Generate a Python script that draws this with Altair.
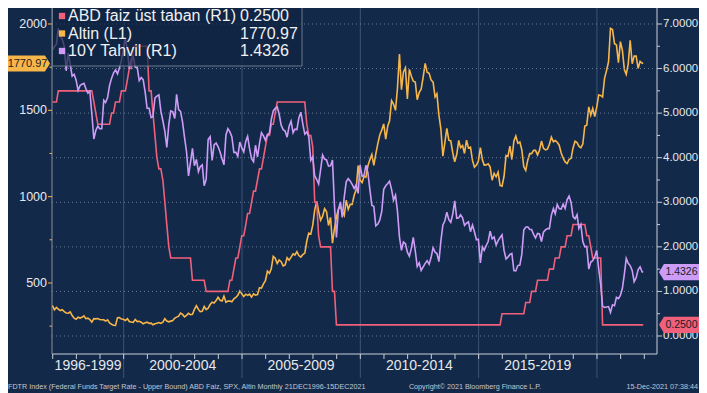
import altair as alt
import pandas as pd

# ---------------- data (monthly, Dec 1996 .. Dec 2021) ----------------
gold = [369,
    345, 358, 349, 340, 345, 334, 326, 325, 332, 311, 296, 290,
    302, 297, 301, 309, 293, 296, 288, 273, 293, 292, 294, 288,
    287, 287, 279, 286, 268, 261, 255, 254, 299, 300, 291, 290,
    283, 293, 277, 274, 272, 288, 276, 278, 273, 264, 270, 273,
    266, 267, 258, 264, 267, 271, 266, 273, 293, 279, 275, 279,
    282, 297, 302, 308, 326, 318, 304, 312, 324, 317, 319, 347,
    368, 347, 334, 336, 364, 346, 354, 375, 388, 384, 398, 417,
    400, 396, 424, 388, 395, 395, 391, 408, 416, 428, 453, 438,
    422, 435, 428, 435, 418, 437, 429, 433, 473, 470, 495, 513,
    568, 556, 582, 654, 643, 613, 633, 623, 599, 604, 646, 632,
    650, 669, 662, 681, 659, 650, 665, 673, 743, 789, 783, 834,
    923, 972, 916, 864, 885, 930, 913, 833, 880, 730, 815, 882,
    928, 942, 916, 891, 979, 927, 955, 955, 1008, 1040, 1180, 1096,
    1081, 1118, 1113, 1179, 1213, 1244, 1181, 1248, 1307, 1357, 1386, 1421,
    1333, 1410, 1439, 1556, 1536, 1500, 1628, 1826, 1620, 1722, 1746, 1566,
    1737, 1697, 1669, 1664, 1561, 1604, 1622, 1692, 1772, 1720, 1714, 1676,
    1663, 1578, 1596, 1472, 1393, 1234, 1312, 1395, 1327, 1323, 1253, 1202,
    1244, 1326, 1284, 1296, 1250, 1327, 1282, 1287, 1210, 1171, 1183, 1206,
    1284, 1213, 1183, 1184, 1190, 1172, 1095, 1135, 1115, 1142, 1065, 1061,
    1118, 1238, 1233, 1293, 1215, 1322, 1351, 1309, 1316, 1272, 1173, 1152,
    1211, 1249, 1249, 1268, 1268, 1242, 1269, 1322, 1280, 1271, 1275, 1303,
    1345, 1318, 1325, 1315, 1298, 1253, 1224, 1201, 1192, 1215, 1222, 1282,
    1321, 1313, 1292, 1283, 1305, 1409, 1414, 1520, 1472, 1511, 1464, 1517,
    1589, 1586, 1577, 1687, 1730, 1781, 1975, 1968, 1886, 1879, 1776, 1898,
    1847, 1734, 1708, 1769, 1906, 1770, 1814, 1814, 1743, 1783, 1774, 1771]

tsy10 = [6.42,
    6.49, 6.55, 6.90, 6.72, 6.66, 6.50, 5.95, 6.34, 6.10, 5.83, 5.87, 5.74,
    5.51, 5.62, 5.65, 5.67, 5.55, 5.45, 5.49, 4.98, 4.42, 4.61, 4.71, 4.65,
    4.65, 5.29, 5.24, 5.35, 5.62, 5.78, 5.90, 5.97, 5.88, 6.02, 6.19, 6.44,
    6.67, 6.41, 6.00, 6.21, 6.27, 6.03, 6.03, 5.73, 5.80, 5.75, 5.47, 5.11,
    5.11, 4.90, 4.92, 5.34, 5.38, 5.41, 5.05, 4.83, 4.59, 4.23, 4.75, 5.05,
    5.03, 4.88, 5.42, 5.08, 5.04, 4.80, 4.46, 4.14, 3.59, 3.89, 4.21, 3.82,
    3.96, 3.69, 3.80, 3.84, 3.37, 3.52, 4.41, 4.47, 3.94, 4.29, 4.33, 4.25,
    4.13, 3.97, 3.84, 4.51, 4.65, 4.58, 4.47, 4.12, 4.12, 4.03, 4.35, 4.22,
    4.13, 4.37, 4.48, 4.20, 3.98, 3.91, 4.28, 4.02, 4.32, 4.56, 4.49, 4.39,
    4.52, 4.55, 4.85, 5.05, 5.11, 5.14, 4.98, 4.73, 4.63, 4.60, 4.46, 4.70,
    4.82, 4.56, 4.64, 4.63, 4.89, 5.02, 4.76, 4.53, 4.58, 4.47, 3.94, 4.02,
    3.59, 3.51, 3.41, 3.73, 4.06, 3.97, 3.95, 3.81, 3.82, 3.95, 2.92, 2.21,
    2.84, 3.01, 2.66, 3.12, 3.46, 3.53, 3.48, 3.40, 3.31, 3.39, 3.20, 3.84,
    3.58, 3.61, 3.83, 3.66, 3.29, 2.93, 2.91, 2.47, 2.51, 2.60, 2.80, 3.29,
    3.37, 3.42, 3.47, 3.29, 3.05, 3.16, 2.80, 2.22, 1.92, 2.11, 2.07, 1.88,
    1.79, 1.97, 2.21, 1.91, 1.56, 1.64, 1.47, 1.55, 1.63, 1.69, 1.61, 1.76,
    1.98, 1.88, 1.85, 1.67, 2.13, 2.49, 2.58, 2.78, 2.61, 2.55, 2.74, 3.03,
    2.64, 2.65, 2.72, 2.65, 2.48, 2.53, 2.56, 2.34, 2.49, 2.34, 2.16, 2.17,
    1.64, 2.00, 1.92, 2.03, 2.12, 2.35, 2.18, 2.22, 2.04, 2.14, 2.21, 2.27,
    1.92, 1.73, 1.77, 1.83, 1.85, 1.47, 1.46, 1.58, 1.59, 1.83, 2.38, 2.44,
    2.45, 2.39, 2.39, 2.28, 2.20, 2.30, 2.29, 2.12, 2.33, 2.38, 2.41, 2.41,
    2.71, 2.86, 2.74, 2.95, 2.86, 2.85, 2.96, 2.86, 3.06, 3.14, 2.99, 2.68,
    2.63, 2.72, 2.41, 2.50, 2.12, 2.00, 2.01, 1.50, 1.66, 1.69, 1.78, 1.92,
    1.51, 1.15, 0.67, 0.64, 0.65, 0.66, 0.53, 0.70, 0.68, 0.87, 0.84, 0.91,
    1.07, 1.40, 1.74, 1.63, 1.58, 1.47, 1.22, 1.31, 1.49, 1.55, 1.44, 1.43]

fed = ([5.25]
    + [5.25, 5.25] + [5.5] * 10
    + [5.5] * 8 + [5.25, 5.0, 4.75, 4.75]
    + [4.75] * 5 + [5.0, 5.0, 5.25, 5.25, 5.25, 5.5, 5.5]
    + [5.5, 5.75, 6.0, 6.0] + [6.5] * 8
    + [5.5, 5.5, 5.0, 4.5, 4.0, 3.75, 3.75, 3.5, 3.0, 2.5, 2.0, 1.75]
    + [1.75] * 10 + [1.25, 1.25]
    + [1.25] * 5 + [1.0] * 7
    + [1.0] * 5 + [1.25, 1.25, 1.5, 1.75, 1.75, 2.0, 2.25]
    + [2.25, 2.5, 2.75, 2.75, 3.0, 3.25, 3.25, 3.5, 3.75, 3.75, 4.0, 4.25]
    + [4.5, 4.5, 4.75, 4.75, 5.0] + [5.25] * 7
    + [5.25] * 8 + [4.75, 4.5, 4.5, 4.25]
    + [3.0, 3.0, 2.25] + [2.0] * 6 + [1.0, 1.0, 0.25]
    + [0.25] * 72
    + [0.25] * 11 + [0.5]
    + [0.5] * 11 + [0.75]
    + [0.75, 0.75, 1.0, 1.0, 1.0] + [1.25] * 6 + [1.5]
    + [1.5, 1.5, 1.75, 1.75, 1.75, 2.0, 2.0, 2.0, 2.25, 2.25, 2.25, 2.5]
    + [2.5] * 6 + [2.25, 2.25, 2.0, 1.75, 1.75, 1.75]
    + [1.75, 1.75] + [0.25] * 10
    + [0.25] * 12)

dates = ["1996-12-28"] + [f"{y}-{m:02d}-28" for y in range(1997, 2022) for m in range(1, 13)]
dates[-1] = "2021-12-15"

legend_labels = ["ABD faiz üst taban (R1)", "Altin (L1)", "10Y Tahvil (R1)"]
legend_values = ["0.2500", "1770.97", "1.4326"]
period_labels = ["1996-1999", "2000-2004", "2005-2009", "2010-2014", "2015-2019"]
period_mid = ["1998-07-01", "2002-07-01", "2007-07-01", "2012-07-01", "2017-07-01"]
separators = ["2000-01-01", "2005-01-01", "2010-01-01", "2015-01-01", "2020-01-01"]
year_ticks = [f"{y}-01-01" for y in range(1997, 2023)]
left_ticks = [500, 1000, 1500, 2000]
left_minor = [250, 750, 1250, 1750]
right_ticks = [0, 1, 2, 3, 4, 5, 6, 7]
right_minor = [0.5, 1.5, 2.5, 3.5, 4.5, 5.5, 6.5]
last_gold, last_tsy, last_fed = 1770.97, 1.4326, 0.25
footer_left = "FDTR Index (Federal Funds Target Rate - Upper Bound) ABD Faiz, SPX, Altin  Monthly 21DEC1996-15DEC2021"
footer_mid = "Copyright© 2021 Bloomberg Finance L.P."
footer_right = "15-Dec-2021 07:38:44"

# ---------------- styling ----------------
BG = "#13294a"
C_GOLD = "#f7b649"
C_FED = "#f0607a"
C_TSY = "#cc9cf7"
AX = "#c9ced6"
TXT = "#e6e8ec"
FONT = "Liberation Sans"
W, H = 605, 346

df = pd.DataFrame({"date": dates, "gold": gold, "fed": fed, "tsy": tsy10})
one = pd.DataFrame({"a": [0]})


def ms(s):
    return int(pd.Timestamp(s).value // 10**6)


xs = alt.Scale(domain=[ms("1996-12-21"), ms("2022-07-16")])
X = alt.X("date:T", scale=xs, axis=None)

ys_gold = alt.Scale(domain=[88.6, 2092.6], nice=False, zero=False)
YG = alt.Y("gold:Q", scale=ys_gold, axis=None)
ys_r = alt.Scale(domain=[-0.404, 7.359], nice=False, zero=False)
YR = alt.Y("v:Q", scale=ys_r, axis=None)

# ---------------- x frame ----------------
sep = alt.Chart(pd.DataFrame({"date": separators})).mark_rule(
    color="#3a5478", strokeWidth=1).encode(x=X, y=alt.value(0), y2=alt.value(370))
x_domain = alt.Chart(one).mark_rule(color=AX, strokeWidth=1).encode(
    x=alt.value(0), x2=alt.value(W), y=alt.value(H))
x_ticks = alt.Chart(pd.DataFrame({"date": year_ticks})).mark_rule(
    color=AX, strokeWidth=1).encode(x=X, y=alt.value(H), y2=alt.value(H + 5))

# ---------------- left (gold) group ----------------
gold_line = alt.Chart(df).mark_line(color=C_GOLD, strokeWidth=1.6, clip=True).encode(x=X, y=YG)
l_domain = alt.Chart(one).mark_rule(color="#8b8f96", strokeWidth=1).encode(
    x=alt.value(0), y=alt.value(0), y2=alt.value(H))
l_tick_df = pd.DataFrame({"gold": left_ticks})
l_ticks = alt.Chart(l_tick_df).mark_rule(color=C_GOLD).encode(
    x=alt.value(-4), x2=alt.value(0), y=YG)
l_labels = alt.Chart(l_tick_df).mark_text(
    align="right", baseline="middle", fontSize=12.5, font=FONT, color=TXT
).encode(x=alt.value(-5), y=YG, text=alt.Text("gold:Q", format="d"))
l_minor = alt.Chart(pd.DataFrame({"gold": left_minor})).mark_rule(color=C_GOLD).encode(
    x=alt.value(-2.5), x2=alt.value(0), y=YG)
tag_l_path = "M-1,-0.38L0.76,-0.38L1,0L0.76,0.38L-1,0.38Z"
gold_tag_df = pd.DataFrame({"gold": [last_gold], "label": [legend_values[1]]})
gold_tag = alt.Chart(gold_tag_df).mark_point(
    shape=tag_l_path, size=42 * 42, filled=True, color=C_GOLD, opacity=1, strokeWidth=0
).encode(x=alt.value(-23), y=YG)
gold_tag_txt = alt.Chart(gold_tag_df).mark_text(
    color="#1c1c24", fontSize=11, font=FONT, align="center", baseline="middle"
).encode(x=alt.value(-24.5), y=YG, text="label:N")
gold_group = alt.layer(l_minor, l_ticks, l_labels, gold_line, gold_tag, gold_tag_txt)

# ---------------- right (rates) group ----------------
r_tick_df = pd.DataFrame({"v": right_ticks})
r_grid = alt.Chart(r_tick_df).mark_rule(
    color="#7889a2", strokeDash=[1, 3], strokeWidth=1, opacity=0.85
).encode(x=alt.value(0), x2=alt.value(W), y=YR)
r_ticks = alt.Chart(r_tick_df).mark_rule(color=AX).encode(
    x=alt.value(W), x2=alt.value(W + 5), y=YR)
r_labels = alt.Chart(r_tick_df).mark_text(
    align="left", baseline="middle", fontSize=11.5, font=FONT, color=TXT
).encode(x=alt.value(W + 6), y=YR, text=alt.Text("v:Q", format=".4f"))
r_minor = alt.Chart(pd.DataFrame({"v": right_minor})).mark_rule(color=AX).encode(
    x=alt.value(W), x2=alt.value(W + 3), y=YR)
r_domain = alt.Chart(one).mark_rule(color=AX, strokeWidth=1).encode(
    x=alt.value(W), y=alt.value(0), y2=alt.value(H))

fed_df = pd.DataFrame({"date": dates, "v": fed})
tsy_df = pd.DataFrame({"date": dates, "v": tsy10})
fed_line = alt.Chart(fed_df).mark_line(color=C_FED, strokeWidth=1.6, clip=True).encode(x=X, y=YR)
tsy_line = alt.Chart(tsy_df).mark_line(color=C_TSY, strokeWidth=1.6, clip=True).encode(x=X, y=YR)
tag_r_path = "M-1,0L-0.76,-0.4L1,-0.4L1,0.4L-0.76,0.4Z"
r_tag_df = pd.DataFrame({"v": [last_tsy, last_fed],
                         "label": [legend_values[2], legend_values[0]],
                         "c": [C_TSY, C_FED]})
r_tag = alt.Chart(r_tag_df).mark_point(
    shape=tag_r_path, size=41 * 41, filled=True, opacity=1, strokeWidth=0
).encode(x=alt.value(W + 22.5), y=YR, color=alt.Color("c:N", scale=None))
r_tag_txt = alt.Chart(r_tag_df).mark_text(
    color="#1c1c24", fontSize=10.5, font=FONT, align="center", baseline="middle"
).encode(x=alt.value(W + 24.5), y=YR, text="label:N")
right_group = alt.layer(r_grid, r_minor, r_ticks, r_labels, fed_line, tsy_line, r_tag, r_tag_txt)

# ---------------- overlays ----------------
legend_box = alt.Chart(one).mark_rect(
    fill="#0f2240", fillOpacity=0.7, stroke="#6b7889", strokeWidth=1
).encode(x=alt.value(0.5), x2=alt.value(250), y=alt.value(-2), y2=alt.value(58))
legend_layers = [legend_box]
legend_colors = [C_FED, C_GOLD, C_TSY]
for i, (lab, val, col) in enumerate(zip(legend_labels, legend_values, legend_colors)):
    yy = 8 + i * 17.5
    legend_layers.append(alt.Chart(one).mark_point(
        shape="square", filled=True, size=40, color=col, opacity=1
    ).encode(x=alt.value(10), y=alt.value(yy)))
    legend_layers.append(alt.Chart(one).mark_text(
        align="left", baseline="middle", fontSize=16, font=FONT, color="#f0f1f3"
    ).encode(x=alt.value(16), y=alt.value(yy), text=alt.value(lab)))
    legend_layers.append(alt.Chart(one).mark_text(
        align="left", baseline="middle", fontSize=16, font=FONT, color="#f0f1f3"
    ).encode(x=alt.value(188), y=alt.value(yy), text=alt.value(val)))

periods = alt.Chart(pd.DataFrame({"date": period_mid, "label": period_labels})).mark_text(
    fontSize=14, font=FONT, color=TXT, baseline="middle", align="center"
).encode(x=X, y=alt.value(358), text="label:N")

foot_style = dict(fontSize=7.2, font=FONT, color="#c3c8d0", baseline="middle")
foot1 = alt.Chart(one).mark_text(align="left", **foot_style).encode(
    x=alt.value(-44), y=alt.value(379), text=alt.value(footer_left))
foot2 = alt.Chart(one).mark_text(align="center", **foot_style).encode(
    x=alt.value(423), y=alt.value(379), text=alt.value(footer_mid))
foot3 = alt.Chart(one).mark_text(align="right", **foot_style).encode(
    x=alt.value(646), y=alt.value(379), text=alt.value(footer_right))

chart = alt.layer(
    sep, x_domain, x_ticks, l_domain, r_domain, gold_group, right_group,
    *legend_layers, periods, foot1, foot2, foot3
).resolve_scale(y="independent").properties(
    width=W, height=H,
    autosize=alt.AutoSizeParams(type="none"),
    padding={"left": 44, "right": 42, "top": 0, "bottom": 39},
    background=BG,
).configure_view(stroke=None)

chart.save("out.html", embed_options={"renderer": "svg", "actions": False})
